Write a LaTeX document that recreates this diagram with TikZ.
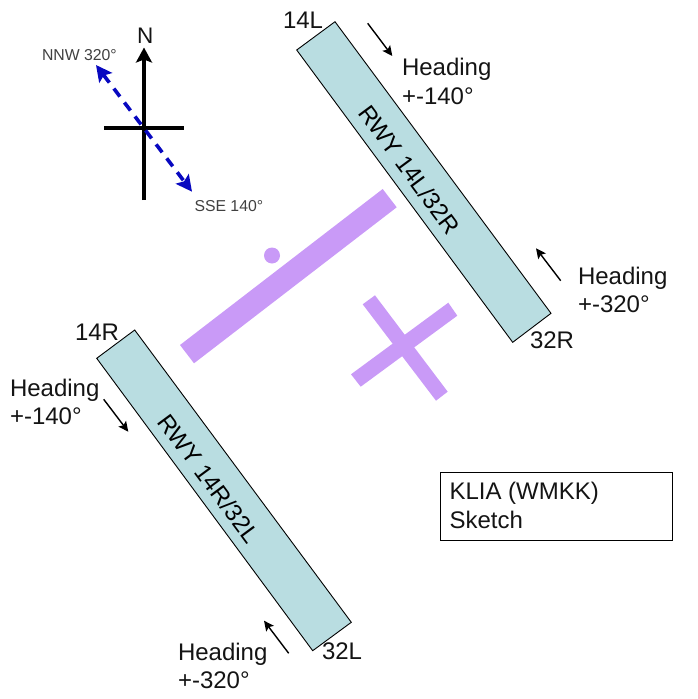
\documentclass[tikz,border=0pt]{standalone}
\usepackage{fontspec}
\setmainfont{Liberation Sans}
\usetikzlibrary{arrows.meta}
\definecolor{rwyfill}{HTML}{B9DDE1}
\definecolor{twyfill}{HTML}{C99AF7}
\definecolor{hdgblue}{HTML}{0808C0}
\tikzset{
  x=1pt,y=-1pt,
  lbl/.style={anchor=base west,inner sep=0pt,outer sep=0pt,font=\fontsize{24}{28}\selectfont,text=black!92},
  small/.style={anchor=base west,inner sep=0pt,outer sep=0pt,font=\fontsize{15.8}{18}\selectfont,text=black!75},
  rwy/.style={draw=black,line width=0.9pt,fill=rwyfill,line join=miter},
  twy/.style={fill=twyfill,draw=none},
  rwylbl/.style={inner sep=0pt,outer sep=0pt,font=\fontsize{24}{28}\selectfont,rotate=-53.5},
  hdg/.style={draw=black,line width=1.4pt,-{Stealth[length=10pt,width=9.5pt,inset=2pt]}},
  compass/.style={draw=black,line width=3.8pt},
  course/.style={draw=hdgblue,line width=3.6pt,dash pattern=on 10pt off 7.5pt,{Stealth[length=16pt,width=16pt,inset=3pt]}-{Stealth[length=16pt,width=16pt,inset=3pt]}},
}
\begin{document}
\begin{tikzpicture}
\useasboundingbox (0,0) rectangle (697,699);
% taxiways / terminal
\fill[twy] (382.7,189) -- (396.7,207.3) -- (194,363.3) -- (180,345) -- cycle;
\fill[twy] (272,255.5) circle (8);
\fill[twy] (448.3,302.7) -- (457.3,315.7) -- (360.7,386.7) -- (351,374.3) -- cycle;
\fill[twy] (375,295.3) -- (362.7,304.3) -- (436,400.7) -- (447.7,391.7) -- cycle;
% runways
\draw[rwy] (335,21.7) -- (296.7,50) -- (512.7,342.3) -- (551,313.3) -- cycle;
\draw[rwy] (134.7,330) -- (96.7,358.3) -- (312.7,650.7) -- (351.3,622.3) -- cycle;
\node[rwylbl] (rwyA) at (409.5,169.5) {RWY 14L/32R};
\node[rwylbl] (rwyB) at (209,478.5) {RWY 14R/32L};
% compass
\coordinate (ntop) at (144,47.5);
\coordinate (nbot) at (144,200);
\coordinate (wleft) at (104,127.7);
\coordinate (eright) at (184,127.7);
\draw[compass,-{Stealth[length=15pt,width=16pt,inset=3pt]}] (nbot) -- (ntop);
\draw[compass] (wleft) -- (eright);
\coordinate (cnnw) at (96,65);
\coordinate (csse) at (192,191.7);
\draw[course] (cnnw) -- (csse);
\node[lbl,font=\fontsize{22.5}{26}\selectfont] (north) at (137,43) {N};
\node[small] (nnw) at (42,60) {NNW 320°};
\node[small] (sse) at (194.5,211.5) {SSE 140°};
% heading arrows
\coordinate (a1s) at (367.7,23.3); \coordinate (a1e) at (392.3,56);
\coordinate (a2s) at (560.7,280.7); \coordinate (a2e) at (536,248.3);
\coordinate (a3s) at (103.7,399.3); \coordinate (a3e) at (128.3,431.7);
\coordinate (a4s) at (288.7,653.3); \coordinate (a4e) at (264,620.7);
\draw[hdg] (a1s) -- (a1e);
\draw[hdg] (a2s) -- (a2e);
\draw[hdg] (a3s) -- (a3e);
\draw[hdg] (a4s) -- (a4e);
% labels
\node[lbl] (l14L) at (283,28) {14L};
\node[lbl] (l32R) at (530,348) {32R};
\node[lbl] (l14R) at (75,340) {14R};
\node[lbl] (l32L) at (322,659.5) {32L};
\node[lbl] (h1a) at (402,75.7) {Heading};
\node[lbl] (h1b) at (402,104) {+-140°};
\node[lbl] (h2a) at (578,284) {Heading};
\node[lbl] (h2b) at (578,312.3) {+-320°};
\node[lbl] (h3a) at (10,396.7) {Heading};
\node[lbl] (h3b) at (10,424.5) {+-140°};
\node[lbl] (h4a) at (178,660) {Heading};
\node[lbl] (h4b) at (178,688) {+-320°};
% title box
\draw[draw=black,line width=0.9pt] (440.3,472.3) rectangle (672.7,540.3);
\node[lbl] (t1) at (449.5,499) {KLIA (WMKK)};
\node[lbl] (t2) at (449.5,528.3) {Sketch};
\end{tikzpicture}
\end{document}
